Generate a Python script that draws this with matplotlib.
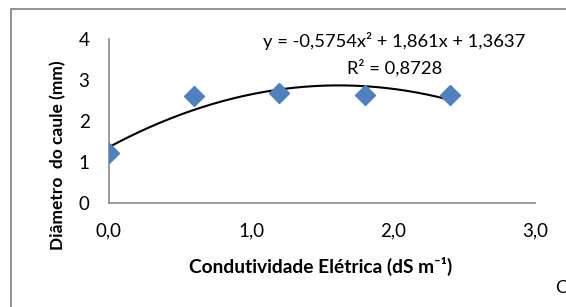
import numpy as np
import matplotlib.pyplot as plt
from matplotlib.patches import Rectangle

# Data
ce = [0.0, 0.6, 1.2, 1.8, 2.4]
diametro = [1.22, 2.61, 2.68, 2.63, 2.63]
x_ticks = [0.0, 1.0, 2.0, 3.0]
y_ticks = [0, 1, 2, 3, 4]

plt.rcParams['font.family'] = ['Lato', 'DejaVu Sans']

fig = plt.figure(figsize=(5.66, 3.07), dpi=100)
ax = fig.add_axes([109/566, 1 - 203/307, (535 - 109)/566, (203 - 39)/307])

# outer chart border (cropped at right/bottom)
fig.patches.append(Rectangle((11/566, -0.1), 1.2, (1 - 9/307) + 0.1,
                             transform=fig.transFigure, fill=False,
                             edgecolor='#898989', linewidth=1.3))

ax.plot(ce, diametro, linestyle='none', marker='D', markersize=9.8,
        color='#4F81BD', zorder=3)

# polynomial trendline (2nd order), coefficients from the chart
xs = np.linspace(ce[0], ce[-1], 200)
ax.plot(xs, np.polyval([-0.5754, 1.861, 1.3637], xs), color='black', linewidth=1.5, zorder=2)

ax.set_xlim(0, 3)
ax.set_ylim(0, 4)
ax.set_xticks(x_ticks)
ax.set_xticklabels([('%.1f' % v).replace('.', ',') for v in x_ticks])
ax.set_yticks(y_ticks)
ax.set_yticklabels([str(v) for v in y_ticks])
ax.tick_params(axis='both', length=0, labelsize=13.5, colors='black')
ax.tick_params(axis='x', pad=14)
ax.tick_params(axis='y', pad=14)

for s in ['top', 'right']:
    ax.spines[s].set_visible(False)
for s in ['left', 'bottom']:
    ax.spines[s].set_color('#898989')
    ax.spines[s].set_linewidth(1.2)

fig.text(394/566, 1 - 41/307, 'y = -0,5754x² + 1,861x + 1,3637', ha='center', va='center', fontsize=13.2)
fig.text(395/566, 1 - 68/307, 'R² = 0,8728', ha='center', va='center', fontsize=13.2)

fig.text(58/566, 1 - 155/307, 'Diâmetro  do caule (mm)', rotation=90, ha='center', va='center',
         fontsize=12.5, fontweight='bold')
fig.text(321/566, 1 - 266/307, 'Condutividade Elétrica (dS m⁻¹)', ha='center', va='center',
         fontsize=13.8, fontweight='bold')
fig.text(555/566, 1 - 288/307, 'C', ha='left', va='center', fontsize=13)

fig.savefig('out.png', dpi=100)
